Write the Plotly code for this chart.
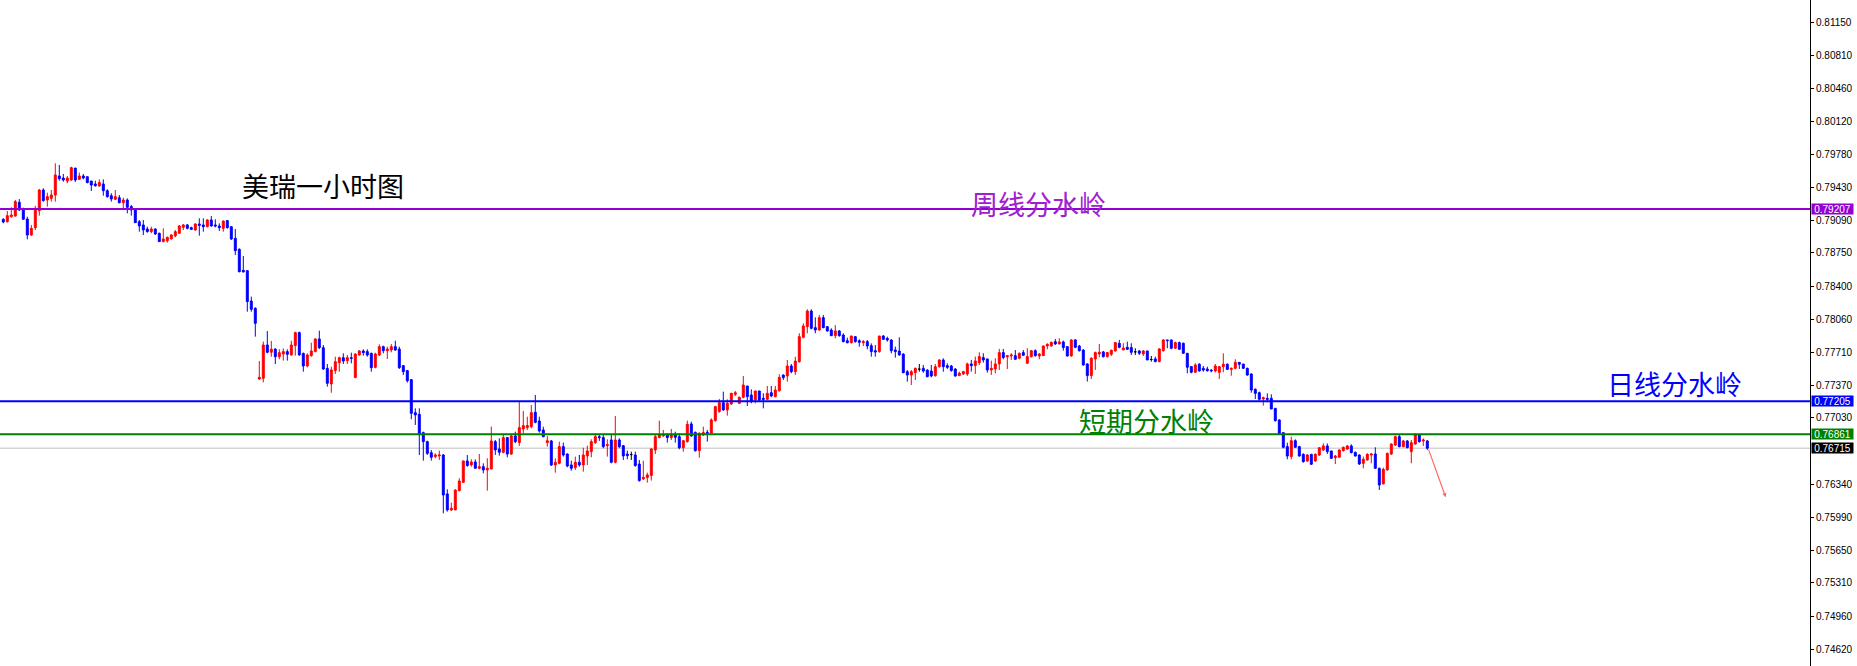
import plotly.graph_objects as go

# ---- candle data (1-hour bars) ----
open_ = [
    0.79100, 0.79075, 0.79127, 0.79134, 0.79277, 0.79197, 0.79103, 0.78936, 0.79013, 0.79190,
    0.79405, 0.79301, 0.79318, 0.79353, 0.79551, 0.79530, 0.79499, 0.79509, 0.79634, 0.79516,
    0.79551, 0.79544, 0.79499, 0.79468, 0.79447, 0.79468, 0.79398, 0.79346, 0.79308, 0.79325,
    0.79273, 0.79301, 0.79232, 0.79197, 0.79075, 0.79041, 0.78999, 0.78971, 0.78999, 0.78954,
    0.78867, 0.78877, 0.78895, 0.78926, 0.78954, 0.79016, 0.79041, 0.79013, 0.78988, 0.79051,
    0.79041, 0.79023, 0.79093, 0.79041, 0.79030, 0.79006, 0.79086, 0.79023, 0.78902, 0.78787,
    0.78568, 0.78565, 0.78248, 0.78172, 0.77436, 0.77443, 0.77790, 0.77714, 0.77748, 0.77668,
    0.77696, 0.77721, 0.77686, 0.77783, 0.77919, 0.77703, 0.77571, 0.77679, 0.77721, 0.77853,
    0.77762, 0.77547, 0.77384, 0.77523, 0.77606, 0.77658, 0.77627, 0.77658, 0.77450, 0.77686,
    0.77728, 0.77721, 0.77703, 0.77557, 0.77686, 0.77773, 0.77731, 0.77738, 0.77773, 0.77748,
    0.77575, 0.77523, 0.77429, 0.77085, 0.77068, 0.76877, 0.76783, 0.76668, 0.76627, 0.76634,
    0.76644, 0.76238, 0.76071, 0.76071, 0.76272, 0.76359, 0.76582, 0.76540, 0.76571, 0.76505,
    0.76522, 0.76488, 0.76498, 0.76783, 0.76707, 0.76672, 0.76825, 0.76654, 0.76842, 0.76773,
    0.76915, 0.76929, 0.76939, 0.77089, 0.76998, 0.76905, 0.76773, 0.76790, 0.76540, 0.76557,
    0.76731, 0.76654, 0.76540, 0.76512, 0.76568, 0.76540, 0.76634, 0.76679, 0.76773, 0.76835,
    0.76825, 0.76741, 0.76800, 0.76568, 0.76800, 0.76741, 0.76654, 0.76648, 0.76644, 0.76550,
    0.76394, 0.76408, 0.76429, 0.76696, 0.76825, 0.76842, 0.76852, 0.76825, 0.76859, 0.76835,
    0.76720, 0.76783, 0.76967, 0.76880, 0.76689, 0.76852, 0.76880, 0.76870, 0.77002, 0.77096,
    0.77189, 0.77113, 0.77175, 0.77276, 0.77182, 0.77245, 0.77363, 0.77269, 0.77217, 0.77311,
    0.77234, 0.77224, 0.77293, 0.77252, 0.77314, 0.77477, 0.77467, 0.77571, 0.77512, 0.77616,
    0.77870, 0.77981, 0.78144, 0.77971, 0.77946, 0.78075, 0.77981, 0.77946, 0.77887, 0.77936,
    0.77894, 0.77835, 0.77814, 0.77877, 0.77835, 0.77814, 0.77825, 0.77783, 0.77731, 0.77721,
    0.77884, 0.77859, 0.77842, 0.77738, 0.77727, 0.77696, 0.77512, 0.77477, 0.77502, 0.77538,
    0.77547, 0.77529, 0.77519, 0.77470, 0.77564, 0.77634, 0.77575, 0.77571, 0.77540, 0.77471,
    0.77488, 0.77488, 0.77593, 0.77575, 0.77606, 0.77659, 0.77645, 0.77530, 0.77540, 0.77593,
    0.77711, 0.77666, 0.77676, 0.77679, 0.77652, 0.77711, 0.77600, 0.77669, 0.77731, 0.77676,
    0.77679, 0.77780, 0.77780, 0.77825, 0.77801, 0.77822, 0.77773, 0.77676, 0.77843, 0.77780,
    0.77738, 0.77593, 0.77471, 0.77645, 0.77697, 0.77718, 0.77669, 0.77693, 0.77728, 0.77808,
    0.77738, 0.77766, 0.77763, 0.77719, 0.77728, 0.77697, 0.77728, 0.77639, 0.77645, 0.77617,
    0.77731, 0.77843, 0.77843, 0.77756, 0.77815, 0.77808, 0.77704, 0.77565, 0.77506, 0.77590,
    0.77547, 0.77540, 0.77529, 0.77519, 0.77505, 0.77564, 0.77589, 0.77536, 0.77547, 0.77609,
    0.77592, 0.77547, 0.77488, 0.77328, 0.77293, 0.77227, 0.77234, 0.77234, 0.77130, 0.77009,
    0.76877, 0.76731, 0.76627, 0.76793, 0.76731, 0.76651, 0.76581, 0.76651, 0.76581, 0.76644,
    0.76696, 0.76738, 0.76686, 0.76616, 0.76620, 0.76689, 0.76706, 0.76738, 0.76672, 0.76644,
    0.76557, 0.76592, 0.76644, 0.76654, 0.76505, 0.76342, 0.76488, 0.76654, 0.76748, 0.76835,
    0.76731, 0.76790, 0.76679, 0.76758, 0.76852, 0.76790, 0.76790,
]
high = [
    0.79110, 0.79186, 0.79225, 0.79301, 0.79311, 0.79221, 0.79127, 0.79041, 0.79239, 0.79416,
    0.79423, 0.79377, 0.79405, 0.79683, 0.79666, 0.79572, 0.79551, 0.79648, 0.79634, 0.79586,
    0.79572, 0.79544, 0.79499, 0.79502, 0.79516, 0.79516, 0.79412, 0.79371, 0.79405, 0.79353,
    0.79325, 0.79318, 0.79249, 0.79204, 0.79093, 0.79093, 0.79023, 0.79023, 0.79006, 0.78961,
    0.79006, 0.78919, 0.78947, 0.78988, 0.79041, 0.79051, 0.79051, 0.79023, 0.79058, 0.79110,
    0.79110, 0.79100, 0.79134, 0.79100, 0.79058, 0.79086, 0.79093, 0.79023, 0.78999, 0.78797,
    0.78717, 0.78565, 0.78294, 0.78183, 0.77623, 0.77825, 0.77936, 0.77832, 0.77755, 0.77745,
    0.77755, 0.77745, 0.77835, 0.77929, 0.77929, 0.77710, 0.77703, 0.77814, 0.77860, 0.77939,
    0.77790, 0.77592, 0.77564, 0.77668, 0.77668, 0.77703, 0.77686, 0.77710, 0.77703, 0.77738,
    0.77745, 0.77745, 0.77710, 0.77710, 0.77797, 0.77783, 0.77773, 0.77800, 0.77835, 0.77773,
    0.77582, 0.77530, 0.77436, 0.77130, 0.77130, 0.76887, 0.76793, 0.76696, 0.76661, 0.76689,
    0.76654, 0.76286, 0.76147, 0.76286, 0.76401, 0.76585, 0.76644, 0.76599, 0.76599, 0.76654,
    0.76557, 0.76609, 0.76939, 0.76800, 0.76818, 0.76852, 0.76828, 0.76852, 0.76887, 0.77200,
    0.77102, 0.77043, 0.77165, 0.77269, 0.77043, 0.76939, 0.76842, 0.76800, 0.76609, 0.76783,
    0.76773, 0.76661, 0.76585, 0.76627, 0.76644, 0.76720, 0.76741, 0.76807, 0.76870, 0.76863,
    0.76863, 0.76807, 0.76852, 0.77050, 0.76818, 0.76748, 0.76689, 0.76679, 0.76679, 0.76592,
    0.76585, 0.76460, 0.76714, 0.76852, 0.77002, 0.76905, 0.76870, 0.76915, 0.76887, 0.76870,
    0.76800, 0.77002, 0.76991, 0.76887, 0.76880, 0.76939, 0.76905, 0.77026, 0.77155, 0.77228,
    0.77304, 0.77224, 0.77293, 0.77311, 0.77252, 0.77467, 0.77363, 0.77328, 0.77311, 0.77311,
    0.77286, 0.77363, 0.77363, 0.77363, 0.77484, 0.77484, 0.77634, 0.77592, 0.77668, 0.77912,
    0.78016, 0.78162, 0.78162, 0.78078, 0.78103, 0.78103, 0.77988, 0.77964, 0.77998, 0.77946,
    0.77912, 0.77866, 0.77884, 0.77884, 0.77849, 0.77842, 0.77842, 0.77807, 0.77790, 0.77884,
    0.77894, 0.77877, 0.77849, 0.77773, 0.77870, 0.77703, 0.77529, 0.77529, 0.77554, 0.77592,
    0.77582, 0.77536, 0.77582, 0.77592, 0.77641, 0.77651, 0.77599, 0.77582, 0.77547, 0.77513,
    0.77520, 0.77606, 0.77634, 0.77669, 0.77714, 0.77704, 0.77645, 0.77627, 0.77652, 0.77749,
    0.77749, 0.77686, 0.77704, 0.77738, 0.77711, 0.77738, 0.77756, 0.77738, 0.77745, 0.77704,
    0.77784, 0.77808, 0.77825, 0.77853, 0.77860, 0.77836, 0.77780, 0.77850, 0.77850, 0.77791,
    0.77745, 0.77600, 0.77662, 0.77721, 0.77801, 0.77728, 0.77718, 0.77742, 0.77822, 0.77843,
    0.77808, 0.77825, 0.77808, 0.77756, 0.77738, 0.77738, 0.77728, 0.77676, 0.77669, 0.77756,
    0.77850, 0.77843, 0.77843, 0.77825, 0.77825, 0.77815, 0.77704, 0.77565, 0.77600, 0.77600,
    0.77571, 0.77564, 0.77536, 0.77592, 0.77571, 0.77703, 0.77599, 0.77554, 0.77641, 0.77609,
    0.77592, 0.77554, 0.77495, 0.77338, 0.77304, 0.77252, 0.77286, 0.77276, 0.77130, 0.77015,
    0.76877, 0.76772, 0.76835, 0.76807, 0.76738, 0.76661, 0.76654, 0.76654, 0.76661, 0.76724,
    0.76765, 0.76765, 0.76686, 0.76644, 0.76703, 0.76731, 0.76748, 0.76755, 0.76679, 0.76651,
    0.76627, 0.76661, 0.76661, 0.76724, 0.76512, 0.76512, 0.76668, 0.76765, 0.76845, 0.76852,
    0.76800, 0.76800, 0.76800, 0.76870, 0.76859, 0.76817, 0.76800,
]
low = [
    0.79058, 0.79065, 0.79117, 0.79127, 0.79186, 0.79093, 0.78891, 0.78929, 0.78988, 0.79138,
    0.79284, 0.79232, 0.79284, 0.79284, 0.79502, 0.79492, 0.79475, 0.79502, 0.79489, 0.79509,
    0.79516, 0.79475, 0.79395, 0.79440, 0.79440, 0.79346, 0.79325, 0.79284, 0.79301, 0.79266,
    0.79214, 0.79162, 0.79138, 0.79065, 0.78971, 0.78936, 0.78961, 0.78954, 0.78936, 0.78867,
    0.78860, 0.78857, 0.78891, 0.78912, 0.78947, 0.78988, 0.78995, 0.78988, 0.78982, 0.78929,
    0.78971, 0.79016, 0.79023, 0.79016, 0.78978, 0.78971, 0.79002, 0.78884, 0.78728, 0.78547,
    0.78547, 0.78137, 0.78137, 0.77877, 0.77425, 0.77401, 0.77703, 0.77668, 0.77592, 0.77641,
    0.77627, 0.77627, 0.77679, 0.77679, 0.77679, 0.77512, 0.77557, 0.77668, 0.77714, 0.77748,
    0.77530, 0.77356, 0.77293, 0.77488, 0.77512, 0.77592, 0.77592, 0.77599, 0.77450, 0.77679,
    0.77679, 0.77668, 0.77512, 0.77547, 0.77675, 0.77703, 0.77644, 0.77714, 0.77728, 0.77540,
    0.77477, 0.77398, 0.77016, 0.76957, 0.76644, 0.76585, 0.76644, 0.76585, 0.76609, 0.76592,
    0.76036, 0.76054, 0.76061, 0.76071, 0.76265, 0.76356, 0.76522, 0.76522, 0.76505, 0.76495,
    0.76453, 0.76272, 0.76495, 0.76644, 0.76637, 0.76661, 0.76620, 0.76644, 0.76766, 0.76738,
    0.76870, 0.76905, 0.76922, 0.76974, 0.76877, 0.76828, 0.76731, 0.76529, 0.76460, 0.76547,
    0.76627, 0.76516, 0.76481, 0.76488, 0.76522, 0.76470, 0.76540, 0.76620, 0.76759, 0.76790,
    0.76714, 0.76627, 0.76557, 0.76557, 0.76714, 0.76592, 0.76599, 0.76592, 0.76522, 0.76366,
    0.76384, 0.76356, 0.76377, 0.76654, 0.76818, 0.76835, 0.76773, 0.76800, 0.76773, 0.76703,
    0.76679, 0.76773, 0.76835, 0.76679, 0.76616, 0.76842, 0.76783, 0.76870, 0.76991, 0.77085,
    0.77106, 0.77054, 0.77165, 0.77259, 0.77175, 0.77234, 0.77154, 0.77182, 0.77182, 0.77200,
    0.77130, 0.77217, 0.77245, 0.77245, 0.77304, 0.77425, 0.77408, 0.77495, 0.77477, 0.77606,
    0.77859, 0.77912, 0.77953, 0.77912, 0.77939, 0.77964, 0.77929, 0.77884, 0.77859, 0.77877,
    0.77818, 0.77807, 0.77807, 0.77814, 0.77773, 0.77780, 0.77745, 0.77668, 0.77668, 0.77710,
    0.77842, 0.77825, 0.77703, 0.77658, 0.77679, 0.77495, 0.77408, 0.77373, 0.77425, 0.77512,
    0.77502, 0.77453, 0.77453, 0.77460, 0.77554, 0.77512, 0.77540, 0.77512, 0.77460, 0.77471,
    0.77478, 0.77468, 0.77513, 0.77488, 0.77582, 0.77606, 0.77502, 0.77478, 0.77495, 0.77530,
    0.77641, 0.77540, 0.77634, 0.77634, 0.77641, 0.77676, 0.77593, 0.77659, 0.77669, 0.77641,
    0.77676, 0.77745, 0.77773, 0.77791, 0.77797, 0.77731, 0.77669, 0.77669, 0.77756, 0.77721,
    0.77575, 0.77409, 0.77436, 0.77530, 0.77662, 0.77659, 0.77659, 0.77676, 0.77721, 0.77756,
    0.77738, 0.77738, 0.77686, 0.77686, 0.77686, 0.77676, 0.77634, 0.77617, 0.77610, 0.77610,
    0.77721, 0.77756, 0.77745, 0.77749, 0.77738, 0.77697, 0.77495, 0.77495, 0.77502, 0.77513,
    0.77512, 0.77512, 0.77505, 0.77505, 0.77436, 0.77505, 0.77529, 0.77470, 0.77536, 0.77540,
    0.77540, 0.77470, 0.77293, 0.77227, 0.77210, 0.77158, 0.77193, 0.77123, 0.76991, 0.76852,
    0.76713, 0.76599, 0.76599, 0.76720, 0.76627, 0.76564, 0.76574, 0.76540, 0.76574, 0.76633,
    0.76686, 0.76654, 0.76602, 0.76550, 0.76616, 0.76679, 0.76696, 0.76661, 0.76627, 0.76540,
    0.76505, 0.76585, 0.76557, 0.76498, 0.76279, 0.76338, 0.76481, 0.76644, 0.76738, 0.76724,
    0.76724, 0.76713, 0.76557, 0.76752, 0.76772, 0.76738, 0.76696,
]
close = [
    0.79072, 0.79138, 0.79145, 0.79284, 0.79197, 0.79100, 0.78936, 0.79006, 0.79214, 0.79405,
    0.79294, 0.79336, 0.79353, 0.79562, 0.79523, 0.79509, 0.79530, 0.79638, 0.79509, 0.79551,
    0.79530, 0.79482, 0.79457, 0.79450, 0.79482, 0.79398, 0.79336, 0.79311, 0.79336, 0.79273,
    0.79301, 0.79225, 0.79197, 0.79065, 0.79030, 0.78988, 0.78971, 0.78999, 0.78947, 0.78867,
    0.78895, 0.78912, 0.78936, 0.78971, 0.79030, 0.79041, 0.79006, 0.78995, 0.79051, 0.79037,
    0.79023, 0.79093, 0.79030, 0.79030, 0.79013, 0.79082, 0.79013, 0.78895, 0.78773, 0.78554,
    0.78551, 0.78242, 0.78162, 0.78016, 0.77453, 0.77790, 0.77714, 0.77745, 0.77668, 0.77710,
    0.77721, 0.77693, 0.77790, 0.77919, 0.77686, 0.77571, 0.77686, 0.77728, 0.77853, 0.77762,
    0.77540, 0.77391, 0.77530, 0.77616, 0.77658, 0.77623, 0.77658, 0.77651, 0.77696, 0.77728,
    0.77710, 0.77686, 0.77554, 0.77696, 0.77773, 0.77731, 0.77748, 0.77773, 0.77738, 0.77554,
    0.77512, 0.77418, 0.77078, 0.77061, 0.76863, 0.76783, 0.76661, 0.76620, 0.76644, 0.76644,
    0.76227, 0.76071, 0.76088, 0.76279, 0.76373, 0.76582, 0.76533, 0.76571, 0.76505, 0.76522,
    0.76488, 0.76505, 0.76790, 0.76696, 0.76672, 0.76825, 0.76654, 0.76842, 0.76783, 0.76929,
    0.76950, 0.76950, 0.77085, 0.76984, 0.76894, 0.76835, 0.76793, 0.76540, 0.76568, 0.76731,
    0.76644, 0.76529, 0.76505, 0.76568, 0.76540, 0.76644, 0.76686, 0.76783, 0.76835, 0.76825,
    0.76731, 0.76752, 0.76568, 0.76800, 0.76731, 0.76634, 0.76637, 0.76648, 0.76533, 0.76377,
    0.76411, 0.76436, 0.76707, 0.76835, 0.76852, 0.76859, 0.76825, 0.76859, 0.76828, 0.76720,
    0.76793, 0.76964, 0.76842, 0.76689, 0.76870, 0.76877, 0.76870, 0.77009, 0.77148, 0.77189,
    0.77113, 0.77182, 0.77286, 0.77293, 0.77245, 0.77373, 0.77252, 0.77207, 0.77311, 0.77217,
    0.77224, 0.77286, 0.77259, 0.77321, 0.77453, 0.77450, 0.77571, 0.77512, 0.77623, 0.77877,
    0.77988, 0.78144, 0.77964, 0.77946, 0.78075, 0.77971, 0.77936, 0.77887, 0.77936, 0.77887,
    0.77825, 0.77814, 0.77884, 0.77825, 0.77818, 0.77825, 0.77780, 0.77721, 0.77717, 0.77884,
    0.77849, 0.77842, 0.77731, 0.77721, 0.77686, 0.77502, 0.77477, 0.77512, 0.77547, 0.77538,
    0.77519, 0.77460, 0.77467, 0.77564, 0.77634, 0.77564, 0.77557, 0.77523, 0.77467, 0.77495,
    0.77513, 0.77593, 0.77575, 0.77624, 0.77669, 0.77634, 0.77530, 0.77547, 0.77593, 0.77711,
    0.77659, 0.77679, 0.77686, 0.77641, 0.77704, 0.77683, 0.77669, 0.77731, 0.77679, 0.77697,
    0.77780, 0.77797, 0.77818, 0.77801, 0.77822, 0.77763, 0.77676, 0.77843, 0.77766, 0.77731,
    0.77582, 0.77471, 0.77652, 0.77711, 0.77714, 0.77669, 0.77711, 0.77735, 0.77815, 0.77766,
    0.77759, 0.77745, 0.77714, 0.77719, 0.77704, 0.77728, 0.77634, 0.77639, 0.77617, 0.77749,
    0.77843, 0.77836, 0.77756, 0.77815, 0.77745, 0.77704, 0.77558, 0.77506, 0.77582, 0.77520,
    0.77529, 0.77522, 0.77522, 0.77571, 0.77564, 0.77589, 0.77536, 0.77547, 0.77609, 0.77589,
    0.77547, 0.77477, 0.77321, 0.77286, 0.77224, 0.77241, 0.77224, 0.77123, 0.77002, 0.76863,
    0.76724, 0.76633, 0.76793, 0.76724, 0.76633, 0.76574, 0.76644, 0.76547, 0.76651, 0.76720,
    0.76738, 0.76679, 0.76609, 0.76633, 0.76696, 0.76724, 0.76738, 0.76668, 0.76633, 0.76550,
    0.76599, 0.76651, 0.76654, 0.76505, 0.76331, 0.76494, 0.76661, 0.76758, 0.76835, 0.76731,
    0.76790, 0.76720, 0.76772, 0.76852, 0.76783, 0.76800, 0.76715,
]

# ---- horizontal levels and labels ----
level_names = ["周线分水岭", "日线分水岭", "短期分水岭"]
level_values = [0.79207, 0.77205, 0.76861]
level_colors = ["#9400D3", "#0000FF", "#008000"]
level_text_colors = ["#A020D0", "#0000FF", "#008000"]
level_text_x = [258.7, 417.9, 285.9]
level_text_y = [0.79262, 0.77391, 0.77003]
last_price = 0.76715

title_text = "美瑞一小时图"
title_x = 79.9
title_y = 0.79447

# projected move arrow (from last candle down)
arrow_start = (356.2, 0.76715)
arrow_end = (360.6, 0.76203)

# axis ticks
tick_values = [0.81150, 0.80810, 0.80460, 0.80120, 0.79780, 0.79430, 0.79090, 0.78750,
               0.78400, 0.78060, 0.77710, 0.77370, 0.77030, 0.76340, 0.75990, 0.75650,
               0.75310, 0.74960, 0.74620]
tick_labels = [f"{v:.5f}" for v in tick_values]

n = len(close)
assert len(open_) == len(high) == len(low) == n
x = list(range(n))

up_dn = [i for i in x if close[i] != open_[i]]
doji = [i for i in x if close[i] == open_[i]]

fig = go.Figure()
fig.add_trace(go.Candlestick(
    x=up_dn,
    open=[open_[i] for i in up_dn], high=[high[i] for i in up_dn],
    low=[low[i] for i in up_dn], close=[close[i] for i in up_dn],
    increasing=dict(line=dict(color="#FF0000", width=1), fillcolor="#FF0000"),
    decreasing=dict(line=dict(color="#0000FF", width=1), fillcolor="#0000FF"),
    whiskerwidth=0, hoverinfo="skip", showlegend=False,
))
fig.add_trace(go.Candlestick(
    x=doji,
    open=[open_[i] for i in doji], high=[high[i] for i in doji],
    low=[low[i] for i in doji], close=[close[i] for i in doji],
    increasing=dict(line=dict(color="#000000", width=1), fillcolor="#000000"),
    decreasing=dict(line=dict(color="#000000", width=1), fillcolor="#000000"),
    whiskerwidth=0, hoverinfo="skip", showlegend=False,
))

shapes = []
for v, c in zip(level_values, level_colors):
    shapes.append(dict(type="line", xref="paper", x0=0, x1=1, yref="y", y0=v, y1=v,
                       line=dict(color=c, width=2), layer="above"))
shapes.append(dict(type="line", xref="paper", x0=0, x1=1, yref="y", y0=last_price, y1=last_price,
                   line=dict(color="#C0C0C0", width=1), layer="below"))

annotations = []
cjk = "Noto Sans CJK SC"
annotations.append(dict(x=title_x, y=title_y, xref="x", yref="y", text=title_text,
                        showarrow=False, font=dict(family=cjk, size=27, color="#000000"),
                        xanchor="center", yanchor="middle"))
for name, tx, ty, tc in zip(level_names, level_text_x, level_text_y, level_text_colors):
    annotations.append(dict(x=tx, y=ty, xref="x", yref="y", text=name, showarrow=False,
                            font=dict(family=cjk, size=27, color=tc),
                            xanchor="center", yanchor="middle"))
# price tags on the axis
for v, c in list(zip(level_values, level_colors)) + [(last_price, "#000000")]:
    annotations.append(dict(x=1, y=v, xref="paper", yref="y", text=f"{v:.5f}",
                            showarrow=False, xanchor="left", yanchor="middle", xshift=1,
                            bgcolor=c, font=dict(family="Liberation Sans", size=10, color="#FFFFFF"),
                            width=41, height=10, borderpad=0, align="center"))
annotations.append(dict(x=arrow_end[0], y=arrow_end[1], ax=arrow_start[0], ay=arrow_start[1],
                        xref="x", yref="y", axref="x", ayref="y", text="", showarrow=True,
                        arrowhead=2, arrowsize=0.7, arrowwidth=1.2,
                        arrowcolor="rgba(255,80,80,0.85)", standoff=0, startstandoff=0))

fig.update_layout(
    width=1857, height=666,
    margin=dict(l=0, r=47, t=0, b=0, pad=0, autoexpand=False),
    paper_bgcolor="#FFFFFF", plot_bgcolor="#FFFFFF",
    showlegend=False,
    shapes=shapes, annotations=annotations,
    boxgap=0.3, boxgroupgap=0.3,
    xaxis=dict(range=[-0.825, 451.675], visible=False, rangeslider=dict(visible=False),
               showgrid=False, zeroline=False, automargin=False),
    yaxis=dict(range=[0.74445, 0.81385], side="right", showgrid=False, zeroline=False,
               showline=True, linecolor="#000000", linewidth=1, mirror=False,
               ticks="outside", ticklen=3, tickcolor="#000000", tickwidth=1,
               tickvals=tick_values, ticktext=tick_labels, automargin=False,
               tickfont=dict(family="Liberation Sans", size=10, color="#000000")),
)

fig.write_html(
    "out.html",
    config={"displayModeBar": False},
    post_script="document.body.style.margin='0';document.body.style.padding='0';"
                "document.body.style.overflow='hidden';",
)
